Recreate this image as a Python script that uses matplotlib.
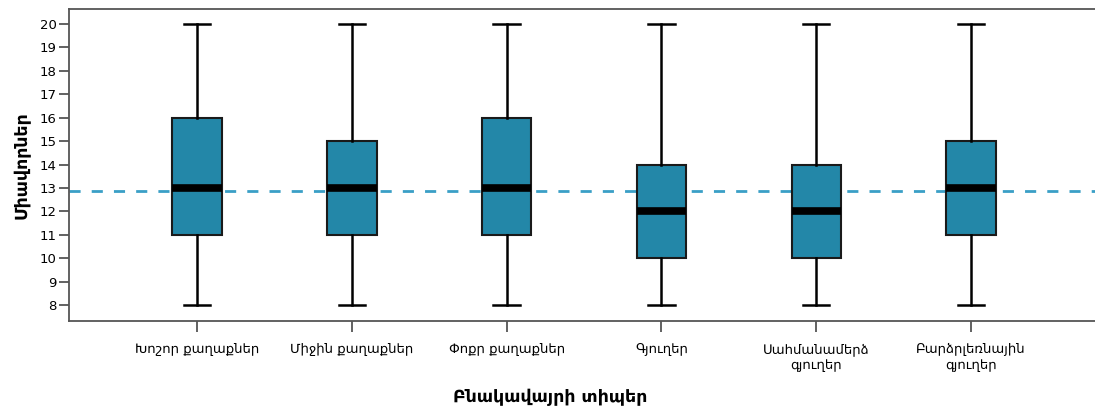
import matplotlib
matplotlib.use("Agg")
import matplotlib.pyplot as plt

categories = ["Խոշոր քաղաքներ", "Միջին քաղաքներ", "Փոքր քաղաքներ",
              "Գյուղեր", "Սահմանամերձ\nգյուղեր", "Բարձրլեռնային\nգյուղեր"]
whislo = [8, 8, 8, 8, 8, 8]
q1 = [11, 11, 11, 10, 10, 11]
med = [13, 13, 13, 12, 12, 13]
q3 = [16, 15, 16, 14, 14, 15]
whishi = [20, 20, 20, 20, 20, 20]
ref_value = 12.86
yticks = list(range(8, 21))

plt.rcParams['font.family'] = ['DejaVu Sans']

fig = plt.figure(figsize=(10.95, 4.11), dpi=100)
ax = fig.add_axes([69/1095, 1 - 321/411, (1095 - 69)/1095, (321 - 9)/411])

stats = []
for i in range(len(categories)):
    stats.append(dict(whislo=whislo[i], q1=q1[i], med=med[i], q3=q3[i],
                      whishi=whishi[i], fliers=[], label=categories[i]))

ax.axhline(ref_value, color="#3a9fc6", linestyle=(0, (4, 4)), linewidth=2.0, zorder=1)

bp = ax.bxp(stats, positions=range(len(categories)), widths=0.32,
            patch_artist=True, showfliers=False,
            boxprops=dict(facecolor="#2387a8", edgecolor="#1a1a1a", linewidth=1.5),
            medianprops=dict(color="black", linewidth=5.5, solid_capstyle="butt"),
            whiskerprops=dict(color="black", linewidth=1.8),
            capprops=dict(color="black", linewidth=1.8),
            capwidths=0.17, zorder=3)

ax.set_xlim(-0.826, 5.8)
ax.set_ylim(7.32, 20.64)
ax.set_yticks(yticks)
ax.set_yticklabels([str(v) for v in yticks])
ax.set_xticks(range(len(categories)))
ax.set_xticklabels(categories, fontsize=9.5, linespacing=1.3)
ax.tick_params(axis="y", labelsize=9.5, length=7, width=1.3, color="#555555", pad=2)
ax.tick_params(axis="x", length=8, width=1.3, color="#555555", pad=8)

for s in ["left", "top", "bottom"]:
    ax.spines[s].set_color("#555555")
    ax.spines[s].set_linewidth(1.3)
ax.spines["right"].set_visible(False)

ax.set_ylabel("Միավորներ", fontsize=12.5, fontweight="bold", labelpad=6)
ax.set_xlabel("Բնակավայրի տիպեր", fontsize=12.5, fontweight="bold")
ax.xaxis.set_label_coords((550 - 69) / (1095 - 69), -(388 - 321) / (321 - 9))

fig.savefig("out.png", dpi=100)
